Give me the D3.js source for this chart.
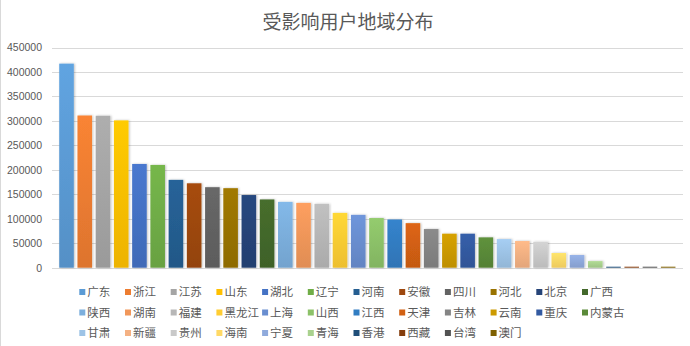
<!DOCTYPE html>
<html><head><meta charset="utf-8">
<script src="https://cdn.jsdelivr.net/npm/d3@7"></script>
<style>
html,body{margin:0;padding:0;background:#fff;}
svg{display:block;}
</style></head>
<body>
<svg id="c" width="690" height="346"></svg>
<script>
const title = "受影响用户地域分布";
const categories = ["广东","浙江","江苏","山东","湖北","辽宁","河南","安徽","四川","河北","北京","广西",
  "陕西","湖南","福建","黑龙江","上海","山西","江西","天津","吉林","云南","重庆","内蒙古",
  "甘肃","新疆","贵州","海南","宁夏","青海","香港","西藏","台湾","澳门"];
const values = [417000,311000,310500,301000,212000,210000,179500,172500,164500,162500,148500,139500,
  134500,132500,130500,112000,108000,101500,98500,91000,79000,69500,69500,62000,
  58500,54500,53000,30000,26000,13500,1500,1300,1200,1000];
const colors = ["#5B9BD5","#ED7D31","#A5A5A5","#FFC000","#4472C4","#70AD47","#255E91","#9E480E","#636363","#997300","#264478","#43682B",
  "#7CAFDD","#F1975A","#B7B7B7","#FFCD33","#698ED0","#8CC168","#327DC2","#D26012","#848484","#CC9A00","#335AA1","#5A8A39",
  "#9DC3E6","#F4B183","#C9C9C9","#FFD966","#8FAADC","#A9D18E","#1F4E79","#843C0C","#525252","#7F6000"];
const yTicks = [0,50000,100000,150000,200000,250000,300000,350000,400000,450000];

const svg = d3.select("#c");
const font = "'Liberation Sans', Arial, 'Noto Sans CJK SC', sans-serif";
const cjk = "'Noto Sans CJK SC', sans-serif";

// chart border (left edge visible)
svg.append("line").attr("x1",0.5).attr("x2",0.5).attr("y1",0).attr("y2",346).attr("stroke","#d9d9d9");

svg.append("text").attr("x",348).attr("y",29).attr("text-anchor","middle")
  .attr("font-family",cjk).attr("font-size",19).attr("fill","#595959").text(title);

const y = d3.scaleLinear().domain([0,450000]).range([267.7,47.5]);
const x = d3.scaleBand().domain(categories).range([57.4,677.3]).paddingInner(0.2).paddingOuter(0.1);
const gridX1 = 52, gridX2 = 683;

// gridlines
const g = svg.append("g");
g.selectAll("line.grid").data(yTicks).join("line")
  .attr("x1",gridX1).attr("x2",gridX2)
  .attr("y1",d=>Math.round(y(d))+0.5).attr("y2",d=>Math.round(y(d))+0.5)
  .attr("stroke","#d9d9d9").attr("stroke-width",1);

// y labels
svg.append("g").selectAll("text").data(yTicks).join("text")
  .attr("x",42).attr("y",d=>y(d)+3.8).attr("text-anchor","end")
  .attr("font-family",font).attr("font-size",10.5).attr("fill","#595959")
  .text(d=>d);

// gradients
const defs = svg.append("defs");
colors.forEach((c,i)=>{
  const lg = defs.append("linearGradient").attr("id","gr"+i).attr("x1",0).attr("x2",0).attr("y1",0).attr("y2",1);
  lg.append("stop").attr("offset","0%").attr("stop-color",d3.color(c).brighter(0.15));
  lg.append("stop").attr("offset","100%").attr("stop-color",d3.color(c).darker(0.2));
});
const f = defs.append("filter").attr("id","sh").attr("x","-20%").attr("y","-20%").attr("width","150%").attr("height","150%");
f.append("feDropShadow").attr("dx",1).attr("dy",0).attr("stdDeviation",0.8).attr("flood-color","#000").attr("flood-opacity",0.25);

svg.append("g").selectAll("rect").data(values).join("rect")
  .attr("x",(d,i)=>x(categories[i]))
  .attr("width",x.bandwidth())
  .attr("y",d=>Math.min(y(d), y(0)-1))
  .attr("height",d=>Math.max(y(0)-y(d),1))
  .attr("fill",(d,i)=>"url(#gr"+i+")")
  .attr("filter",d=>y(0)-y(d) > 3 ? "url(#sh)" : null);

// legend
const perRow = 12, colStep = 45.7, rowStep = 20.5, lx0 = 79.3, ly0 = 292;
const leg = svg.append("g").selectAll("g").data(categories).join("g")
  .attr("transform",(d,i)=>`translate(${lx0 + (i%perRow)*colStep},${ly0 + Math.floor(i/perRow)*rowStep})`);
leg.append("rect").attr("x",0).attr("y",-3).attr("width",6).attr("height",6)
  .attr("fill",(d,i)=>colors[i]);
leg.append("text").attr("x",8).attr("y",4.3).attr("font-family",cjk).attr("font-size",11.5)
  .attr("fill","#595959").text(d=>d);
</script>
</body></html>
